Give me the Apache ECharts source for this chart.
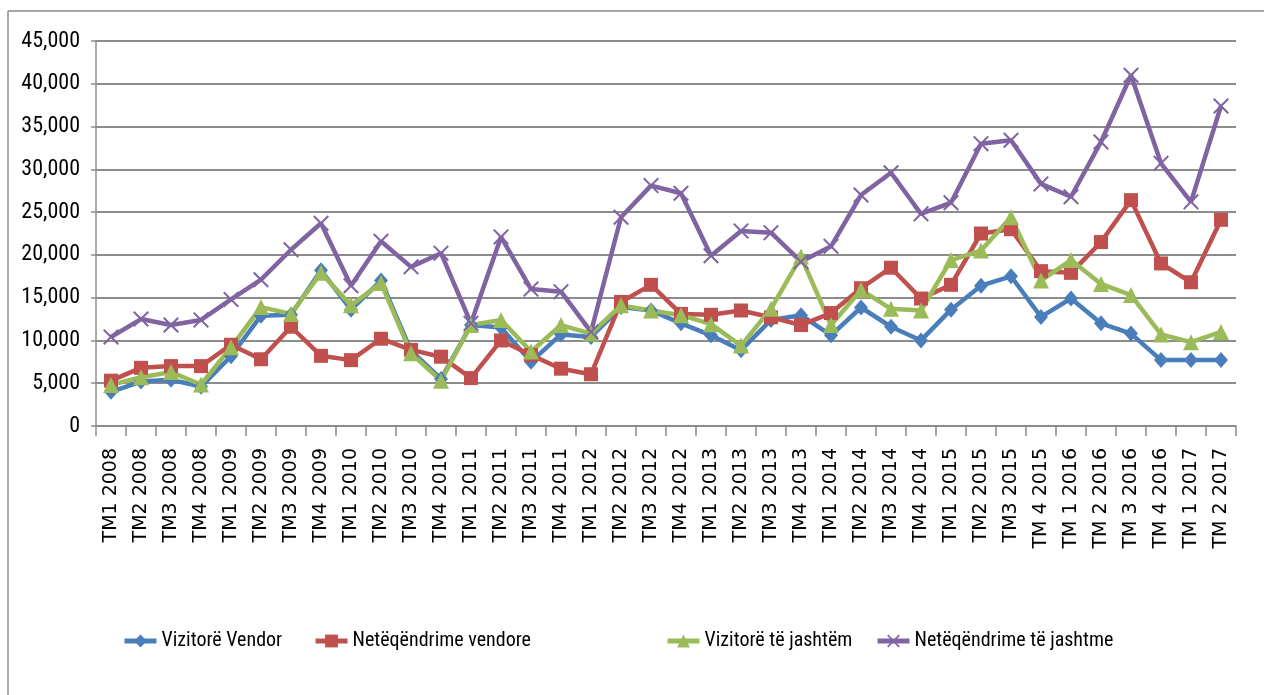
<!DOCTYPE html>
<html>
<head>
<meta charset="utf-8">
<script src="https://cdn.jsdelivr.net/npm/echarts@6/dist/echarts.min.js"></script>
<style>
  html, body { margin: 0; padding: 0; background: #fff; }
  #chart { width: 1264px; height: 695px; }
</style>
</head>
<body>
<div id="chart"></div>
<script>
const categories = [
  'TM1 2008', 'TM2 2008', 'TM3 2008', 'TM4 2008',
  'TM1 2009', 'TM2 2009', 'TM3 2009', 'TM4 2009',
  'TM1 2010', 'TM2 2010', 'TM3 2010', 'TM4 2010',
  'TM1 2011', 'TM2 2011', 'TM3 2011', 'TM4 2011',
  'TM1 2012', 'TM2 2012', 'TM3 2012', 'TM4 2012',
  'TM1 2013', 'TM2 2013', 'TM3 2013', 'TM4 2013',
  'TM1 2014', 'TM2 2014', 'TM3 2014', 'TM4 2014',
  'TM1 2015', 'TM2 2015', 'TM3 2015', 'TM 4 2015',
  'TM 1 2016', 'TM 2 2016', 'TM 3 2016', 'TM 4 2016',
  'TM 1 2017', 'TM 2 2017'
]

const vizitoreVendor = [
  4000, 5200, 5400, 4600, 8150, 12900, 13000, 18200, 13600, 17000,
  8800, 5500, 11800, 11500, 7500, 10700, 10400, 13900, 13500, 12000,
  10600, 8850, 12400, 12950, 10600, 13850, 11600, 10000, 13600, 16400,
  17500, 12750, 14900, 12000, 10800, 7700, 7700, 7700
]

const neteqendrimeVendore = [
  5300, 6800, 7000, 7000, 9500, 7800, 11600, 8200, 7700, 10200,
  8900, 8100, 5600, 10000, 8300, 6700, 6050, 14500, 16500, 13100,
  13000, 13500, 12700, 11800, 13200, 16100, 18500, 14900, 16500, 22500,
  23000, 18100, 17900, 21500, 26400, 19000, 16800, 24100
]

const vizitoreJashtem = [
  4800, 5700, 6300, 4850, 9200, 13900, 13100, 17900, 14100, 16700,
  8500, 5300, 11800, 12400, 8700, 11800, 10800, 14100, 13500, 12950,
  11900, 9400, 13700, 19800, 11800, 15900, 13700, 13500, 19400, 20500,
  24400, 17000, 19400, 16600, 15300, 10700, 9800, 11000
]

const neteqendrimeJashtme = [
  10400, 12500, 11800, 12400, 14800, 17100, 20600, 23700, 16400, 21600,
  18600, 20200, 12000, 22100, 16000, 15700, 11000, 24400, 28100, 27200,
  19900, 22800, 22600, 19200, 21000, 27000, 29600, 24800, 26100, 33000,
  33400, 28300, 26800, 33200, 41000, 30700, 26200, 37400
]

const seriesNames = ['Vizitorë Vendor', 'Netëqëndrime vendore', 'Vizitorë të jashtëm', 'Netëqëndrime të jashtme']
const colors = ['#4A7EBB', '#C0504D', '#9BBB59', '#8064A2']

const narrowFont = "'Roboto Condensed', 'DejaVu Sans Condensed', sans-serif"
const gridGray = '#8c8c8c'

// X marker like Excel's
const xSymbol = 'path://M0,0.9 L0.9,0 L5,4.1 L9.1,0 L10,0.9 L5.9,5 L10,9.1 L9.1,10 L5,5.9 L0.9,10 L0,9.1 L4.1,5 Z'

var myChart = echarts.init(document.getElementById('chart'))

function lineSeries(name, data, color, symbol, size) {
  return {
    name: name,
    type: 'line',
    data: data,
    symbol: symbol,
    symbolSize: size,
    showAllSymbol: true,
    lineStyle: { color: color, width: 4.5 },
    itemStyle: { color: color, borderWidth: 0 },
    emphasis: { disabled: true },
    animation: false
  }
}

function legendAt(left, name) {
  return {
    left: left,
    top: 626,
    data: [name],
    itemWidth: 32,
    itemHeight: 16,
    itemGap: 4,
    lineStyle: { width: 5 },
    textStyle: { fontFamily: narrowFont, fontSize: 20, color: '#000' },
    selectedMode: false
  }
}

const option = {
  animation: false,
  graphic: [
    { type: 'line', shape: { x1: 8, y1: 11, x2: 1264, y2: 11 }, style: { stroke: gridGray, lineWidth: 1.5 } },
    { type: 'line', shape: { x1: 8, y1: 11, x2: 8, y2: 695 }, style: { stroke: gridGray, lineWidth: 1.5 } }
  ],
  legend: [
    legendAt(117, seriesNames[0]),
    legendAt(308, seriesNames[1]),
    legendAt(660, seriesNames[2]),
    legendAt(870, seriesNames[3])
  ],
  grid: { left: 96, right: 28, top: 41, bottom: 269, containLabel: false },
  xAxis: {
    type: 'category',
    data: categories,
    boundaryGap: true,
    axisLine: { lineStyle: { color: gridGray, width: 1.5 } },
    axisTick: { show: true, interval: 0, length: 10, lineStyle: { color: gridGray, width: 1.5 } },
    axisLabel: {
      interval: 0,
      rotate: 90,
      margin: 22,
      color: '#000',
      fontFamily: "'DejaVu Sans', sans-serif",
      fontSize: 19
    }
  },
  yAxis: {
    type: 'value',
    min: 0,
    max: 45000,
    interval: 5000,
    axisLine: { show: true, lineStyle: { color: gridGray, width: 1.5 } },
    axisTick: { show: true, length: 5, lineStyle: { color: gridGray, width: 1.5 } },
    splitLine: { lineStyle: { color: gridGray, width: 2 } },
    axisLabel: {
      color: '#000',
      fontFamily: narrowFont,
      fontSize: 22,
      margin: 16,
      formatter: (v) => v.toLocaleString('en-US')
    }
  },
  series: [
    lineSeries(seriesNames[0], vizitoreVendor, colors[0], 'diamond', [14, 16]),
    lineSeries(seriesNames[1], neteqendrimeVendore, colors[1], 'rect', 14),
    lineSeries(seriesNames[2], vizitoreJashtem, colors[2], 'triangle', 16),
    lineSeries(seriesNames[3], neteqendrimeJashtme, colors[3], xSymbol, 16)
  ]
}

myChart.setOption(option)
</script>
</body>
</html>
